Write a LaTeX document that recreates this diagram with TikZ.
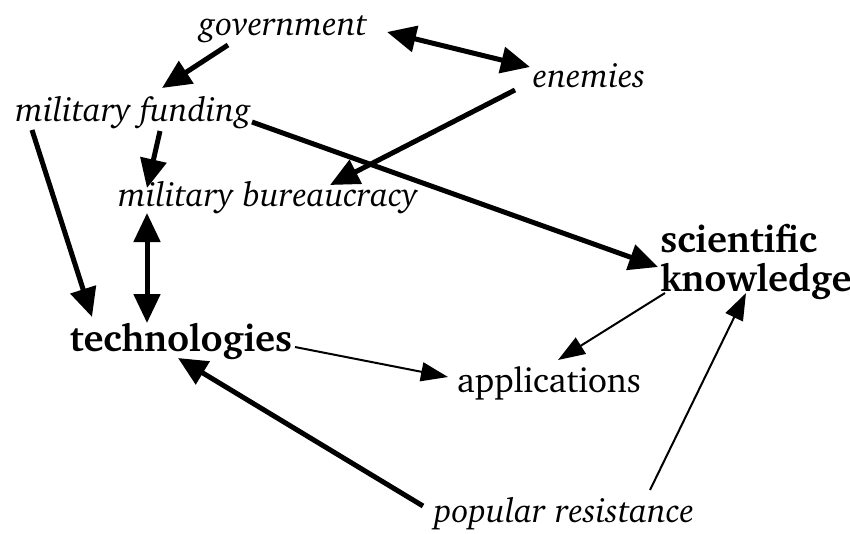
\documentclass[tikz,border=0pt]{standalone}
\usepackage[T1]{fontenc}
\usepackage{charter}
\usetikzlibrary{arrows.meta}

\tikzset{
  lbl/.style={inner sep=0pt, font=\fontsize{34}{38}\selectfont\itshape},
  plainlbl/.style={inner sep=0pt, font=\fontsize{35}{38}\selectfont},
  boldlbl/.style={inner sep=0pt, font=\fontsize{38}{39}\selectfont\bfseries, align=left},
  heavy/.style={line width=5pt, -{Triangle[length=29pt,width=26pt]}},
  heavyboth/.style={line width=5pt, {Triangle[length=29pt,width=26pt]}-{Triangle[length=29pt,width=26pt]}},
  light/.style={line width=2pt, -{Triangle[length=27pt,width=19pt]}}
}

\begin{document}
\begin{tikzpicture}[x=1pt,y=-1pt]
\useasboundingbox (0,0) rectangle (850,533);
% labels
\node[lbl] (gov) at (283,29) {government};
\node[lbl] (en) at (589,76) {enemies};
\node[lbl] (mf) at (133,113) {military funding};
\node[lbl] (mb) at (268,198) {military bureaucracy};
\node[boldlbl] (tech) at (181,341) {technologies};
\node[plainlbl] (app) at (549,383) {applications};
\node[boldlbl] (sk) at (756,262) {scientific\\knowledge};
\node[lbl] (pr) at (564,514) {popular resistance};
% links
\draw[heavyboth] ([shift={(104,3)}]gov.center) -- ([shift={(-59,-9)}]en.center);
\draw[heavy] ([shift={(-55,16)}]gov.center) -- ([shift={(29,-25)}]mf.center);
\draw[heavy] ([shift={(-74,14)}]en.center) -- ([shift={(62,-13)}]mb.center);
\draw[heavy] ([shift={(119,9)}]mf.center) -- ([shift={(-98,5)}]sk.center);
\draw[heavy] ([shift={(27,18)}]mf.center) -- ([shift={(-121,-10)}]mb.center);
\draw[heavy] ([shift={(-101,17)}]mf.center) -- ([shift={(-89,-24)}]tech.center);
\draw[heavyboth] ([shift={(-121,15)}]mb.center) -- ([shift={(-34,-18)}]tech.center);
\draw[light] ([shift={(114,6)}]tech.center) -- ([shift={(-101,-6)}]app.center);
\draw[light] ([shift={(-91,31)}]sk.center) -- ([shift={(9,-23)}]app.center);
\draw[heavy] ([shift={(-141,-8)}]pr.center) -- ([shift={(-3,17)}]tech.center);
\draw[light] ([shift={(86,-24)}]pr.center) -- ([shift={(-10,31)}]sk.center);
\end{tikzpicture}
\end{document}
